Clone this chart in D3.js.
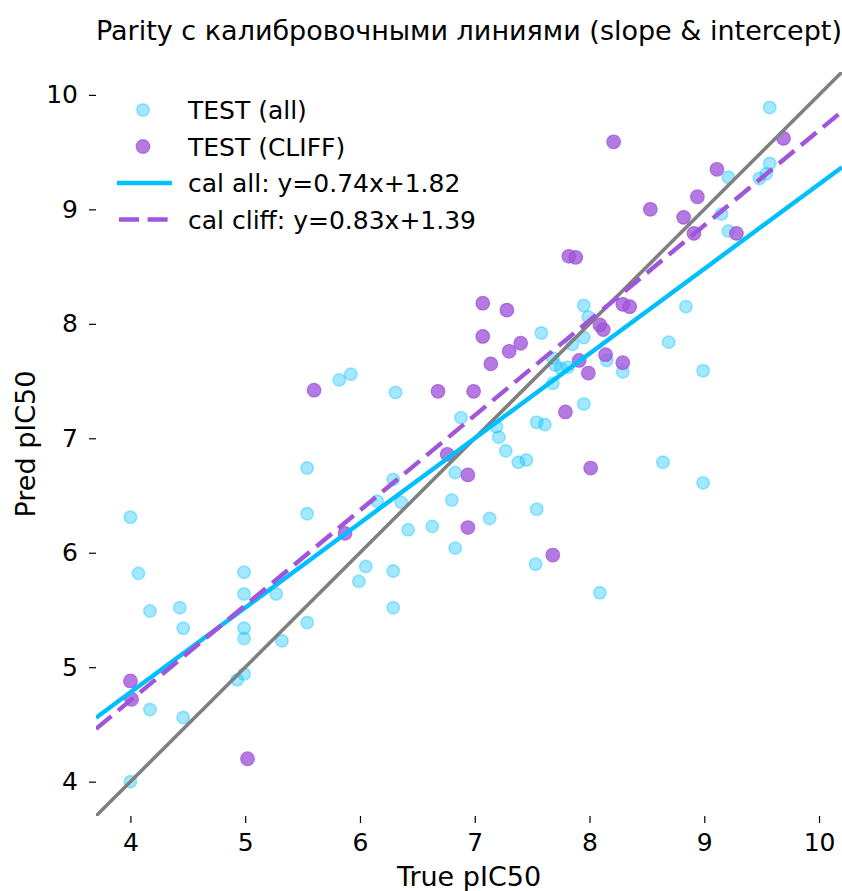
<!DOCTYPE html>
<html>
<head>
<meta charset="utf-8">
<script src="https://cdn.jsdelivr.net/npm/d3@7"></script>
<style>
  html, body { margin: 0; padding: 0; background: #fff; }
  svg { display: block; font-family: "DejaVu Sans", sans-serif; }
</style>
</head>
<body>
<svg id="chart" width="842" height="891"></svg>
<script>
// Test set: true vs predicted pIC50
const allTrue = [4.00, 4.07, 4.17, 4.43, 4.46, 4.17, 4.46, 4.00, 4.99, 4.99, 4.99, 4.99, 4.99, 4.93,
  5.27, 5.32, 5.54, 5.54, 5.54, 5.82, 5.92, 6.31, 6.29, 6.15, 6.36, 6.42, 6.63, 6.83, 6.80, 6.83,
  6.88, 7.19, 7.21, 7.27, 7.38, 7.45, 7.54, 7.61, 7.13, 7.54, 7.53, 6.05, 6.29, 5.99, 6.29, 8.09,
  7.95, 7.68, 7.68, 7.70, 7.81, 7.75, 7.85, 7.95, 7.58, 7.95, 7.99, 8.15, 8.29, 8.84, 8.69, 8.99,
  8.64, 8.99, 9.21, 9.57, 9.48, 9.54, 9.15, 9.21, 9.57];
const allPred = [6.31, 5.82, 5.49, 5.52, 5.34, 4.63, 4.56, 4.00, 5.83, 5.64, 5.34, 5.25, 4.94, 4.89,
  5.64, 5.23, 6.74, 6.34, 5.39, 7.51, 7.56, 7.40, 6.64, 6.45, 6.44, 6.20, 6.23, 6.04, 6.46, 6.70,
  7.18, 7.10, 7.01, 6.89, 6.79, 6.81, 7.14, 7.12, 6.30, 6.38, 5.90, 5.88, 5.84, 5.75, 5.52, 5.65,
  7.30, 7.48, 7.70, 7.64, 7.62, 7.61, 7.82, 7.88, 7.92, 8.16, 8.06, 7.68, 7.58, 8.15, 7.84, 7.59,
  6.79, 6.61, 9.28, 9.40, 9.27, 9.31, 8.96, 8.81, 9.89];

// Activity-cliff compounds within the test set
const cliffTrue = [4.00, 4.01, 5.02, 5.60, 5.87, 6.68, 6.99, 6.76, 6.94, 6.94, 7.68, 7.07, 7.28,
  7.07, 7.30, 7.40, 7.14, 7.91, 7.99, 7.79, 8.01, 7.82, 7.88, 8.09, 8.12, 8.14, 8.29, 8.29, 8.35,
  8.21, 9.69, 9.11, 8.53, 8.94, 8.82, 8.91, 9.28];
const cliffPred = [4.88, 4.72, 4.20, 7.42, 6.17, 7.41, 7.41, 6.86, 6.68, 6.22, 5.98, 8.18, 8.12,
  7.89, 7.76, 7.83, 7.65, 7.68, 7.57, 7.23, 6.74, 8.59, 8.58, 7.99, 7.95, 7.73, 7.66, 8.17, 8.15,
  9.59, 9.62, 9.35, 9.00, 9.11, 8.93, 8.79, 8.79];

// Linear calibration fits (pred = slope * true + intercept)
const calAll = { slope: 0.74, intercept: 1.82 };
const calCliff = { slope: 0.83, intercept: 1.39 };

const axisLimits = [3.7, 10.2];
const tickValues = [4, 5, 6, 7, 8, 9, 10];

const titleText = "Parity с калибровочными линиями (slope & intercept)";
const xLabel = "True pIC50";
const yLabel = "Pred pIC50";
const legendLabels = [
  "TEST (all)",
  "TEST (CLIFF)",
  `cal all: y=${calAll.slope.toFixed(2)}x+${calAll.intercept.toFixed(2)}`,
  `cal cliff: y=${calCliff.slope.toFixed(2)}x+${calCliff.intercept.toFixed(2)}`
];

const colAll = "#00bfff";
const colCliff = "#a055da";
const colIdentity = "#808080";

const svg = d3.select("#chart");
const plot = { left: 96, right: 842, top: 72, bottom: 816 };

const x = d3.scaleLinear().domain(axisLimits).range([plot.left, plot.right]);
const y = d3.scaleLinear().domain(axisLimits).range([plot.bottom, plot.top]);

svg.append("defs").append("clipPath").attr("id", "plotClip")
  .append("rect")
  .attr("x", plot.left).attr("y", plot.top)
  .attr("width", plot.right - plot.left).attr("height", plot.bottom - plot.top);

// Axes: ticks only, no spines
const xAxis = svg.append("g")
  .attr("transform", `translate(0,${plot.bottom})`)
  .call(d3.axisBottom(x).tickValues(tickValues).tickSize(7).tickPadding(10).tickFormat(d3.format("d")));
const yAxis = svg.append("g")
  .attr("transform", `translate(${plot.left},0)`)
  .call(d3.axisLeft(y).tickValues(tickValues).tickSize(7).tickPadding(11).tickFormat(d3.format("d")));
[xAxis, yAxis].forEach(g => {
  g.select(".domain").remove();
  g.selectAll(".tick line").attr("stroke", "#000").attr("stroke-width", 1.2);
  g.selectAll(".tick text")
    .attr("fill", "#000")
    .style("font-family", "DejaVu Sans, sans-serif")
    .style("font-size", "25px");
});

// Scatter points
const pts = svg.append("g").attr("clip-path", "url(#plotClip)");
pts.selectAll("circle.all")
  .data(d3.zip(allTrue, allPred))
  .join("circle")
  .attr("class", "all")
  .attr("cx", d => x(d[0])).attr("cy", d => y(d[1]))
  .attr("r", 6.2)
  .attr("fill", colAll).attr("fill-opacity", 0.36)
  .attr("stroke", colAll).attr("stroke-opacity", 0.36).attr("stroke-width", 1.6);

pts.selectAll("circle.cliff")
  .data(d3.zip(cliffTrue, cliffPred))
  .join("circle")
  .attr("class", "cliff")
  .attr("cx", d => x(d[0])).attr("cy", d => y(d[1]))
  .attr("r", 6.8)
  .attr("fill", colCliff).attr("fill-opacity", 0.78)
  .attr("stroke", colCliff).attr("stroke-opacity", 0.78).attr("stroke-width", 1.2);

// Reference and calibration lines
const lines = svg.append("g").attr("clip-path", "url(#plotClip)");
const line = d3.line().x(d => x(d[0])).y(d => y(d[1]));
const fitPoints = c => axisLimits.map(v => [v, c.slope * v + c.intercept]);

lines.append("path")
  .attr("d", line(axisLimits.map(v => [v, v])))
  .attr("fill", "none").attr("stroke", colIdentity).attr("stroke-width", 3.6);
lines.append("path")
  .attr("d", line(fitPoints(calAll)))
  .attr("fill", "none").attr("stroke", colAll).attr("stroke-width", 4.4);
lines.append("path")
  .attr("d", line(fitPoints(calCliff)))
  .attr("fill", "none").attr("stroke", colCliff).attr("stroke-width", 4.4)
  .attr("stroke-dasharray", "20,8.6");

// Title and axis labels
svg.append("text")
  .attr("x", (plot.left + plot.right) / 2).attr("y", 40)
  .attr("text-anchor", "middle").style("font-size", "27px")
  .text(titleText);
svg.append("text")
  .attr("x", (plot.left + plot.right) / 2).attr("y", 886)
  .attr("text-anchor", "middle").style("font-size", "27px")
  .text(xLabel);
svg.append("text")
  .attr("transform", `translate(35,${(plot.top + plot.bottom) / 2}) rotate(-90)`)
  .attr("text-anchor", "middle").style("font-size", "27px")
  .text(yLabel);

// Legend
const legend = svg.append("g");
const rowY = i => 110 + i * 36.5;
legend.append("circle")
  .attr("cx", 143).attr("cy", rowY(0)).attr("r", 6.2)
  .attr("fill", colAll).attr("fill-opacity", 0.36)
  .attr("stroke", colAll).attr("stroke-opacity", 0.36).attr("stroke-width", 1.6);
legend.append("circle")
  .attr("cx", 143).attr("cy", rowY(1)).attr("r", 6.8)
  .attr("fill", colCliff).attr("fill-opacity", 0.78)
  .attr("stroke", colCliff).attr("stroke-opacity", 0.78).attr("stroke-width", 1.2);
legend.append("line")
  .attr("x1", 117).attr("x2", 172).attr("y1", rowY(2)).attr("y2", rowY(2))
  .attr("stroke", colAll).attr("stroke-width", 4.4);
legend.append("line")
  .attr("x1", 119).attr("x2", 172).attr("y1", rowY(3)).attr("y2", rowY(3))
  .attr("stroke", colCliff).attr("stroke-width", 4.4).attr("stroke-dasharray", "20,8.6");
legend.selectAll("text")
  .data(legendLabels)
  .join("text")
  .attr("x", 188).attr("y", (d, i) => rowY(i) + 9)
  .style("font-size", "25px")
  .text(d => d);
</script>
</body>
</html>
